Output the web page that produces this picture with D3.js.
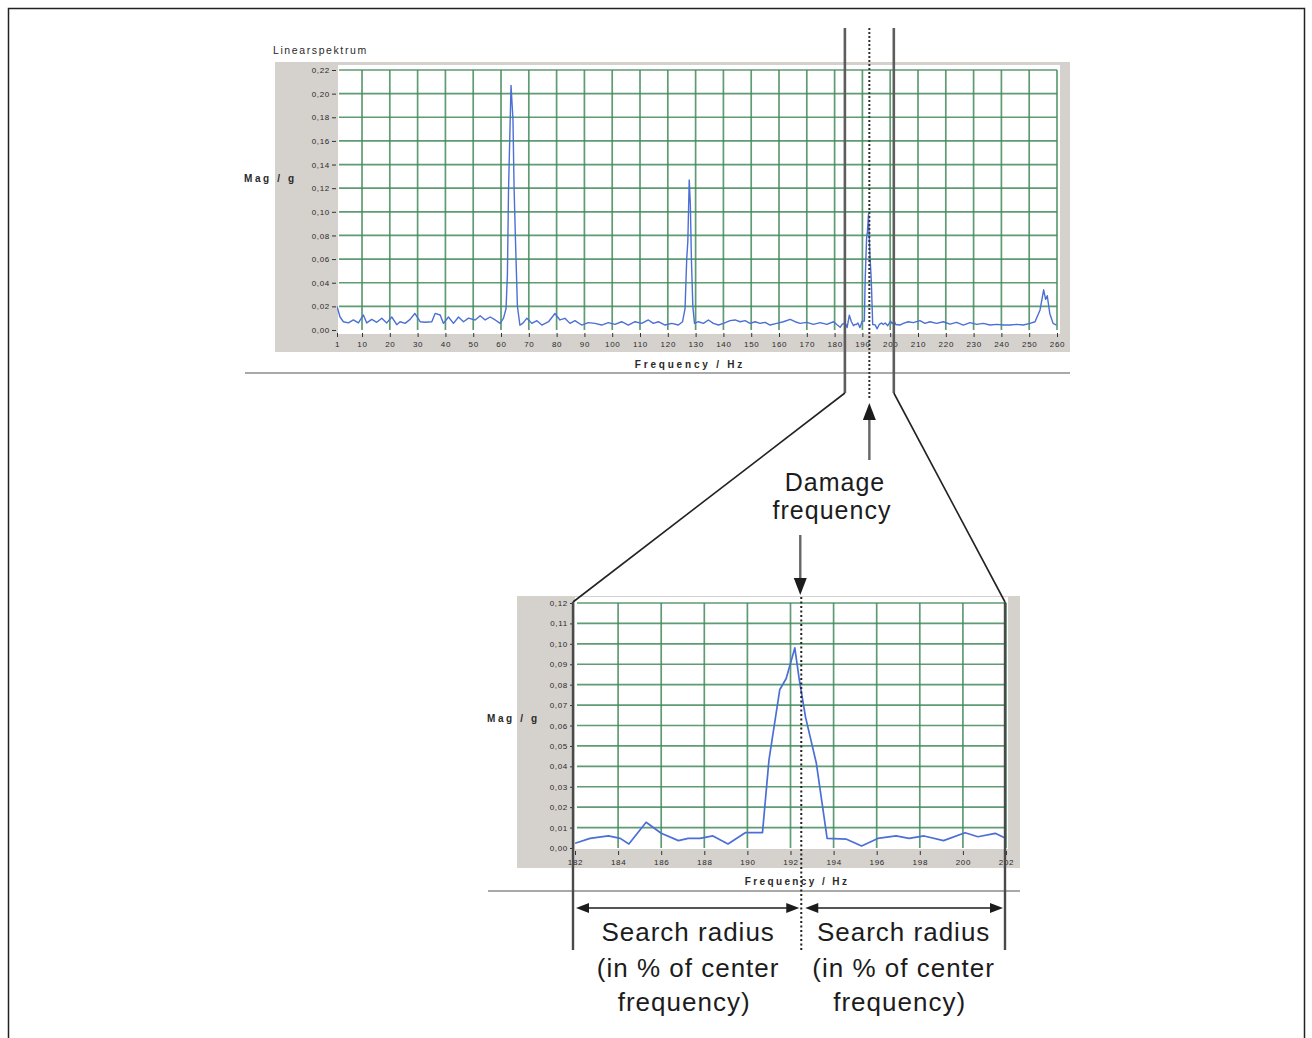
<!DOCTYPE html>
<html>
<head>
<meta charset="utf-8">
<script src="https://cdn.jsdelivr.net/npm/d3@7"></script>
<style>
  body { margin: 0; background: #fff; }
  svg { display: block; }
  .tick text { font-family: "Liberation Sans", Arial, sans-serif; }
</style>
</head>
<body>
<svg id="fig" width="1312" height="1038"></svg>
<script>
// ---- measured linear spectrum (frequency in Hz, magnitude in g) ----
const spectrumHz = [
  1, 2.1, 3.3, 5.1, 6.9, 8.7, 10.5, 11.7, 13.5, 15.3, 17.1, 18.9, 20.7, 22.5, 23.7, 25.5, 27.3, 29.0,
  30.9, 32.7, 35.1, 36.3, 38.1, 39.3, 41.1, 42.9, 44.7, 46.5, 48.3, 50.7, 52.5, 54.3, 56.1, 57.9,
  59.7, 60.9, 61.8, 62.3, 62.7, 63.6, 64.3, 64.7, 65.3, 65.9, 66.8, 68.0, 69.3, 71.1, 72.9, 74.7,
  77.1, 79.4, 81.2, 83.0, 84.8, 86.6, 89.0, 91.4, 93.8, 96.2, 98.6, 101.0, 103.4, 105.8, 108.2,
  110.6, 113.0, 114.8, 116.6, 119.0, 121.4, 123.8, 125.3, 126.2, 126.8, 127.2, 127.7, 128.1, 128.5,
  129.0, 129.6, 131.0, 132.8, 134.6, 136.4, 138.2, 140.0, 142.4, 144.2, 146.0, 147.8, 149.6, 151.4,
  153.2, 155.0, 156.8, 159.2, 161.6, 164.0, 165.8, 167.6, 170.0, 172.4, 174.8, 177.2, 179.6, 181.0,
  182.0, 182.7, 183.55, 184.1, 184.5, 185.3, 186.0, 186.8, 187.25, 187.8, 188.4, 189.1, 189.9,
  190.7, 191.0, 191.5, 191.8, 192.2, 192.4, 192.7, 193.2, 193.7, 194.6, 195.3, 196.05, 196.9,
  197.5, 198.2, 199.1, 200.1, 200.7, 201.5, 202.0,
  203.5, 204.7, 206.5, 208.3, 210.7, 212.5, 214.3, 216.7, 219.1, 221.5, 223.9, 226.3, 228.7,
  231.1, 233.5, 235.9, 238.3, 240.7, 243.1, 245.5, 247.9, 250.3, 252.1, 253.9, 255.2, 255.9,
  256.5, 257.4, 258.6, 259.8
];
const spectrumMag = [
  0.020, 0.011, 0.007, 0.006, 0.0085, 0.006, 0.0127, 0.006, 0.009, 0.0065, 0.010, 0.006, 0.011, 0.0045, 0.007, 0.0056, 0.009, 0.014,
  0.007, 0.0065, 0.007, 0.014, 0.0127, 0.0056, 0.011, 0.0056, 0.011, 0.007, 0.010, 0.0085, 0.012, 0.0085, 0.011, 0.0085,
  0.0056, 0.010, 0.018, 0.047, 0.118, 0.207, 0.178, 0.120, 0.068, 0.020, 0.004, 0.006, 0.010, 0.0056, 0.0079, 0.0042,
  0.007, 0.014, 0.0085, 0.0099, 0.0056, 0.0079, 0.0042, 0.0062, 0.0056, 0.0042, 0.0062, 0.0048, 0.007, 0.0042, 0.007,
  0.0056, 0.0085, 0.0056, 0.007, 0.0042, 0.0056, 0.0042, 0.007, 0.018, 0.060, 0.075, 0.127, 0.107, 0.059,
  0.020, 0.0056, 0.007, 0.0056, 0.0085, 0.0056, 0.0042, 0.0056, 0.0079, 0.0085, 0.007, 0.0079, 0.0056, 0.007,
  0.0056, 0.0065, 0.0042, 0.0056, 0.007, 0.009, 0.007, 0.0056, 0.0065, 0.0048, 0.0062, 0.0048, 0.007, 0.0042,
  0.0023, 0.0047, 0.0059, 0.0047, 0.0020, 0.0126, 0.0072, 0.0036, 0.0047, 0.0047, 0.0059, 0.0020, 0.0075,
  0.0075, 0.043, 0.0775, 0.083, 0.098, 0.083, 0.064, 0.0415, 0.0047, 0.0043, 0.0010, 0.0047, 0.0059,
  0.0047, 0.0059, 0.0036, 0.0075, 0.0055, 0.0072, 0.0047,
  0.0042, 0.0056, 0.007, 0.0062, 0.0079, 0.0056, 0.007, 0.0056, 0.007, 0.005, 0.0065, 0.0042, 0.0062,
  0.0048, 0.0056, 0.0042, 0.0048, 0.0042, 0.0042, 0.0048, 0.0042, 0.0056, 0.007, 0.017, 0.034, 0.026,
  0.029, 0.014, 0.0056, 0.0042
];

// ---- axis ticks ----
const overviewXTicks = [1, 10, 20, 30, 40, 50, 60, 70, 80, 90, 100, 110, 120, 130, 140, 150, 160, 170, 180, 190, 200, 210, 220, 230, 240, 250, 260];
const overviewYTicks = [0, 0.02, 0.04, 0.06, 0.08, 0.10, 0.12, 0.14, 0.16, 0.18, 0.20, 0.22];
const zoomXTicks = [182, 184, 186, 188, 190, 192, 194, 196, 198, 200, 202];
const zoomYTicks = [0, 0.01, 0.02, 0.03, 0.04, 0.05, 0.06, 0.07, 0.08, 0.09, 0.10, 0.11, 0.12];

// ---- annotation frequencies ----
const damageHz = 192.5;
const searchBandHz = [183.7, 201.3];   // band edges marked on the overview
const zoomRangeHz = [182, 202];        // frequency window of the detail view

// ---- labels ----
const overviewTitle = "Linearspektrum";
const yAxisTitle = "Mag / g";
const xAxisTitle = "Frequency / Hz";
const damageLabel = ["Damage", "frequency"];
const radiusLabel = ["Search radius", "(in % of center", "frequency)"];

const spectrum = spectrumHz.map((f, i) => ({ f, m: spectrumMag[i] }));
const fmt = d => d.toFixed(2).replace(".", ",");

const svg = d3.select("#fig");
const FONT = '"Liberation Sans", Arial, sans-serif';
const PANEL = "#d5d1cd";
const GRID = "#43895b";
const LINE = "#4b6fd6";
const INK = "#1c1c1c";

// outer frame
svg.append("rect").attr("x", 8.5).attr("y", 8.5).attr("width", 1296).attr("height", 1045)
  .attr("fill", "none").attr("stroke", "#222").attr("stroke-width", 1.5);

// ---------- generic panel drawing ----------
function drawPanel(cfg) {
  const { x, y, panel, plot, xTicks, yTicks, data, title } = cfg;
  const g = svg.append("g");
  g.append("rect").attr("x", panel[0]).attr("y", panel[1]).attr("width", panel[2]).attr("height", panel[3]).attr("fill", PANEL);
  g.append("rect").attr("x", plot[0]).attr("y", plot[1]).attr("width", plot[2]).attr("height", plot[3]).attr("fill", "#fff");

  const [x0, x1] = x.range();
  const [y0, y1] = y.range();

  // grid
  const grid = g.append("g").attr("stroke", GRID).attr("stroke-width", 1.7).attr("stroke-opacity", 0.85);
  grid.selectAll("line.h").data(yTicks.filter(t => t > 0)).join("line")
    .attr("x1", x0 + 2).attr("x2", x1).attr("y1", d => y(d)).attr("y2", d => y(d));
  grid.selectAll("line.v").data(xTicks.slice(1)).join("line")
    .attr("x1", d => x(d)).attr("x2", d => x(d)).attr("y1", y1).attr("y2", y0);

  // spectrum trace
  const clipId = "clip" + Math.round(x0);
  g.append("clipPath").attr("id", clipId).append("rect")
    .attr("x", x0).attr("y", y1 - 5).attr("width", x1 - x0).attr("height", y0 - y1 + 8);
  g.append("path").datum(data)
    .attr("clip-path", `url(#${clipId})`)
    .attr("fill", "none").attr("stroke", LINE).attr("stroke-width", cfg.lineWidth).attr("stroke-linejoin", "round")
    .attr("d", d3.line().x(d => x(d.f)).y(d => y(d.m)));

  // axes
  const yAxis = g.append("g").attr("transform", `translate(${x0 - 1},0)`)
    .call(d3.axisLeft(y).tickValues(yTicks).tickFormat(fmt).tickSize(4).tickPadding(2));
  const xAxis = g.append("g").attr("transform", `translate(0,${y0 + 3})`)
    .call(d3.axisBottom(x).tickValues(xTicks).tickFormat(d3.format("d")).tickSize(4).tickPadding(4));
  [yAxis, xAxis].forEach(a => {
    a.select(".domain").remove();
    a.selectAll(".tick line").attr("stroke", "#333").attr("stroke-width", 1);
    a.selectAll(".tick text").attr("fill", "#2a2a2a").attr("font-size", 8).attr("font-family", FONT)
      .attr("letter-spacing", 0.7);
  });

  // axis titles
  g.append("text").attr("x", cfg.magPos[0]).attr("y", cfg.magPos[1]).text(yAxisTitle)
    .attr("font-family", FONT).attr("font-size", 10).attr("font-weight", "bold").attr("letter-spacing", 2.6).attr("fill", "#2a2a2a");
  g.append("text").attr("x", cfg.freqPos[0]).attr("y", cfg.freqPos[1]).attr("text-anchor", "middle").text(xAxisTitle)
    .attr("font-family", FONT).attr("font-size", 10).attr("font-weight", "bold").attr("letter-spacing", cfg.freqSpacing).attr("fill", "#2a2a2a");
  if (title) {
    g.append("text").attr("x", title.pos[0]).attr("y", title.pos[1]).text(title.text)
      .attr("font-family", FONT).attr("font-size", 10.5).attr("letter-spacing", 1.6).attr("fill", "#2a2a2a");
  }
  // separator rule under the panel
  g.append("line").attr("x1", cfg.rule[0]).attr("x2", cfg.rule[1]).attr("y1", cfg.rule[2]).attr("y2", cfg.rule[2])
    .attr("stroke", "#a9a9a9").attr("stroke-width", 2);
  return g;
}

// ---------- overview spectrum ----------
const xTop = d3.scaleLinear().domain([1, 260]).range([337, 1057]);
const yTop = d3.scaleLinear().domain([0, 0.22]).range([330, 70]);
drawPanel({
  x: xTop, y: yTop,
  panel: [275, 62, 795, 290], plot: [338, 65, 722, 269],
  xTicks: overviewXTicks, yTicks: overviewYTicks, data: spectrum,
  lineWidth: 1.4,
  title: { text: overviewTitle, pos: [273, 54] },
  magPos: [244, 182], freqPos: [690, 368], freqSpacing: 2.8,
  rule: [245, 1070, 373]
});

// ---------- detail view around the damage frequency ----------
const xBot = d3.scaleLinear().domain(zoomRangeHz).range([575, 1006]);
const yBot = d3.scaleLinear().domain([0, 0.12]).range([848, 603]);
drawPanel({
  x: xBot, y: yBot,
  panel: [517, 596, 503, 272], plot: [575, 597, 433, 252],
  xTicks: zoomXTicks, yTicks: zoomYTicks,
  data: spectrum.filter(d => d.f >= zoomRangeHz[0] && d.f <= zoomRangeHz[1]),
  lineWidth: 1.7,
  magPos: [487, 722], freqPos: [797, 885], freqSpacing: 2.4,
  rule: [488, 1020, 891]
});

// ---------- annotation overlay ----------
const ann = svg.append("g");
const topY = 28, bandBottom = 393, detailTop = 602, bottomY = 950;
const xs0 = xTop(searchBandHz[0]), xs1 = xTop(searchBandHz[1]);
const xb0 = xBot(zoomRangeHz[0]) - 2, xb1 = xBot(zoomRangeHz[1]) - 1;
const xdTop = xTop(damageHz), xdBot = xBot(damageHz);

// band edges on the overview
[xs0, xs1].forEach(xx => ann.append("line").attr("x1", xx).attr("x2", xx).attr("y1", topY).attr("y2", bandBottom)
  .attr("stroke", "#5d5d5d").attr("stroke-width", 2.6));
// connectors to the detail view
ann.append("line").attr("x1", xs0).attr("y1", bandBottom).attr("x2", xb0).attr("y2", detailTop)
  .attr("stroke", "#222").attr("stroke-width", 1.6);
ann.append("line").attr("x1", xs1).attr("y1", bandBottom).attr("x2", xb1).attr("y2", detailTop)
  .attr("stroke", "#222").attr("stroke-width", 1.6);
// band edges on the detail view
[xb0, xb1].forEach(xx => ann.append("line").attr("x1", xx).attr("x2", xx).attr("y1", detailTop).attr("y2", bottomY)
  .attr("stroke", "#4a4a4a").attr("stroke-width", 2.4));

// damage frequency markers (dotted)
ann.append("line").attr("x1", xdTop).attr("x2", xdTop).attr("y1", topY).attr("y2", 400)
  .attr("stroke", "#333").attr("stroke-width", 2).attr("stroke-dasharray", "2,2");
ann.append("line").attr("x1", xdBot).attr("x2", xdBot).attr("y1", 597).attr("y2", bottomY)
  .attr("stroke", "#222").attr("stroke-width", 2).attr("stroke-dasharray", "2,2.5");

// arrow helpers
function head(tipX, tipY, dx, dy, len, half) {
  const bx = tipX - dx * len, by = tipY - dy * len;
  const px = -dy * half, py = dx * half;
  ann.append("path")
    .attr("d", `M${tipX},${tipY}L${bx + px},${by + py}L${bx - px},${by - py}Z`)
    .attr("fill", INK);
}
function vArrow(xx, yFrom, yTo) {
  const dir = Math.sign(yTo - yFrom);
  ann.append("line").attr("x1", xx).attr("x2", xx).attr("y1", yFrom).attr("y2", yTo - dir * 14)
    .attr("stroke", "#666").attr("stroke-width", 2.4);
  head(xx, yTo, 0, dir, 17, 6.5);
}
function hDoubleArrow(xa, xbEnd, yy) {
  ann.append("line").attr("x1", xa + 10).attr("x2", xbEnd - 10).attr("y1", yy).attr("y2", yy)
    .attr("stroke", INK).attr("stroke-width", 1.6);
  head(xa, yy, -1, 0, 13, 5);
  head(xbEnd, yy, 1, 0, 13, 5);
}

vArrow(xdTop, 460, 403);
vArrow(xdBot - 1, 535, 595);
hDoubleArrow(xBot(zoomRangeHz[0]) + 1, xdBot - 2, 908);
hDoubleArrow(xdBot + 4, xBot(zoomRangeHz[1]) - 3, 908);

// annotation text
const txt = (s, x, y, size) => ann.append("text").attr("x", x).attr("y", y).attr("text-anchor", "middle")
  .attr("font-family", FONT).attr("font-size", size).attr("letter-spacing", 1).attr("fill", INK).text(s);
txt(damageLabel[0], 835, 491, 25);
txt(damageLabel[1], 832, 519, 25);
const leftC = (xBot(zoomRangeHz[0]) + xdBot) / 2, rightC = (xdBot + xBot(zoomRangeHz[1])) / 2;
[leftC, rightC].forEach(cx => {
  txt(radiusLabel[0], cx, 941, 26);
  txt(radiusLabel[1], cx, 977, 26);
  txt(radiusLabel[2], cx - 4, 1011, 26);
});
</script>
</body>
</html>
